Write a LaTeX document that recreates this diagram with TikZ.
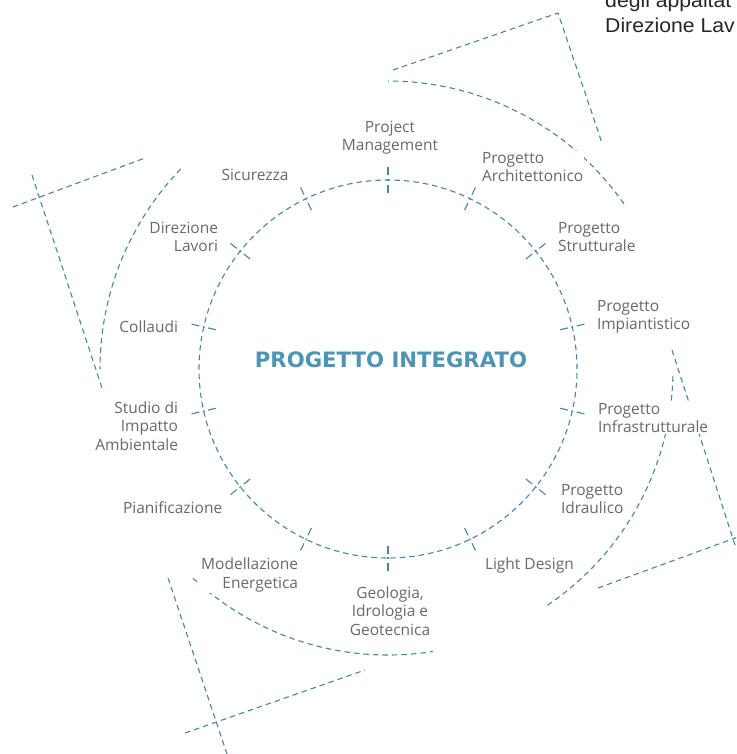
\documentclass[tikz,border=0pt]{standalone}
\usepackage{fontspec}
\setmainfont{Open Sans}
\newfontfamily\titlefont{DejaVu Sans}
\newfontfamily\arialfont{Liberation Sans}
\usetikzlibrary{calc}
\definecolor{lineblue}{RGB}{74,134,158}
\definecolor{titleblue}{RGB}{80,148,180}
\definecolor{labelgray}{RGB}{105,105,105}
\tikzset{
  dashline/.style={draw=lineblue, line width=1.1pt, dash pattern=on 5.5pt off 4pt},
  tickline/.style={draw=lineblue, line width=1.1pt, dash pattern=on 8pt off 3.5pt on 2pt off 3.5pt on 8pt off 100pt},
  lbl/.style={text=labelgray, fill=white, inner sep=0.8pt, font=\fontsize{15.5}{18.2}\selectfont},
  ttl/.style={text=titleblue, inner sep=0pt, font=\titlefont\bfseries\fontsize{21.2}{24}\selectfont},
  cut/.style={text=black!85, inner sep=0pt, font=\arialfont\fontsize{20}{24}\selectfont, xscale=1.06}
}
\begin{document}
\begin{tikzpicture}[x=1pt,y=1pt]
\useasboundingbox (0,0) rectangle (736,-754);
\clip (0,0) rectangle (736,-754);
\fill[white] (0,0) rectangle (736,-754);
\coordinate (C) at (388,-369);

% main circle
\draw[dashline] (C) circle[radius=189pt];
% ticks
\foreach \k in {0,...,13}{
  \draw[tickline] ($(C)+({90-\k*360/14}:176.5)$) -- ($(C)+({90-\k*360/14}:201.5)$);
}

% outer shapes
% top-right
\coordinate (tra) at (393,-70);
\coordinate (trb) at (558,-13);
\coordinate (trc) at (602,-143);
\draw[dashline] ($(C)+(35:288)$) arc[start angle=35, end angle=90, radius=288pt];
\draw[dashline] (tra) -- (trb) -- (trc);
% left
\coordinate (la) at (13,-207);
\coordinate (lb) at (145,-158);
\coordinate (lc) at (32,-175);
\coordinate (ld) at (102,-388);
\draw[dashline] ($(C)+(136:288)$) arc[start angle=136, end angle=180, radius=288pt];
\draw[dashline] (la) -- (lb);
\draw[dashline] (lc) -- (ld);
% bottom-left
\coordinate (ba) at (168,-578);
\coordinate (bb) at (227,-754);
\coordinate (bc) at (185,-733);
\coordinate (bd) at (365,-670);
\draw[dashline] ($(C)+(227:286)$) arc[start angle=227, end angle=279, radius=286pt];
\draw[dashline] (ba) -- (bb);
\draw[dashline] (bc) -- (bd);
% right
\coordinate (ra) at (672,-350);
\coordinate (rb) at (735,-545);
\coordinate (rc) at (598,-588);
\coordinate (rd) at (738,-537);
\draw[dashline] ($(C)+(-56:285)$) arc[start angle=-56, end angle=-1, radius=285pt];
\draw[dashline] (ra) -- (rb);
\draw[dashline] (rc) -- (rd);

% title
\node[ttl, anchor=base] (title) at (391,-367) {PROGETTO INTEGRATO};

% labels
\node[lbl, align=center] (pm) at (390,-138) {Project\\Management};
\node[lbl, align=left, anchor=west] (arch) at (481,-167) {Progetto\\Architettonico};
\node[lbl, align=left, anchor=west] (strut) at (557,-237) {Progetto\\Strutturale};
\node[lbl, align=left, anchor=west] (impi) at (596,-317) {Progetto\\Impiantistico};
\node[lbl, align=left, anchor=west] (infra) at (597,-418) {Progetto\\Infrastrutturale};
\node[lbl, align=left, anchor=west] (idra) at (560,-499) {Progetto\\Idraulico};
\node[lbl, anchor=west] (light) at (484,-565) {Light Design};
\node[lbl, align=center] (geo) at (390,-611) {Geologia,\\Idrologia e\\Geotecnica};
\node[lbl, align=right, anchor=east] (mod) at (299,-575) {Modellazione\\Energetica};
\node[lbl, anchor=west] (pian) at (122,-508) {Pianificazione};
\node[lbl, align=right, anchor=east] (studio) at (179,-426) {Studio di\\Impatto\\Ambientale};
\node[lbl, anchor=east] (coll) at (179,-327) {Collaudi};
\node[lbl, align=right, anchor=east] (dir) at (219,-237) {Direzione\\Lavori};
\node[lbl] (sic) at (255,-175) {Sicurezza};

% cut-off text at top right
\node[cut, anchor=base west] (cuta) at (605,-8) {degli appaltat};
\node[cut, anchor=base west] (cutb) at (605,-33) {Direzione Lav};
\end{tikzpicture}
\end{document}
